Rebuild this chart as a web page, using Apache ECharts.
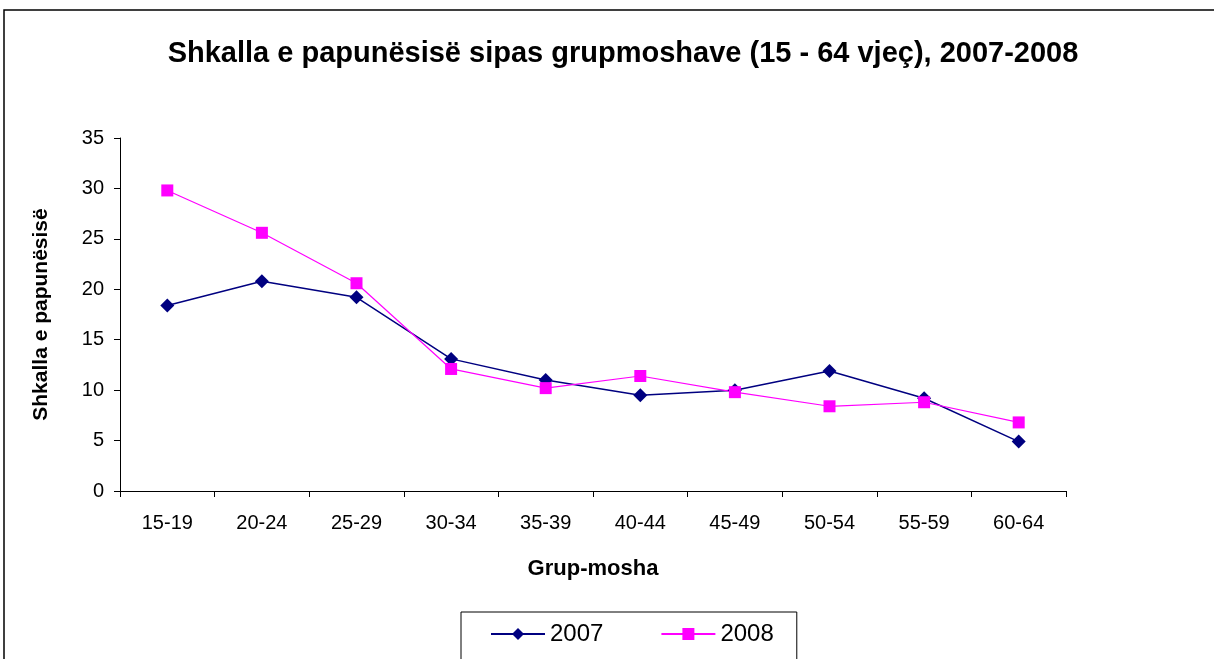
<!DOCTYPE html>
<html>
<head>
<meta charset="utf-8">
<script src="https://cdn.jsdelivr.net/npm/echarts@6/dist/echarts.min.js"></script>
<style>
html,body{margin:0;padding:0;background:#fff;}
#main{width:1214px;height:659px;}
</style>
</head>
<body>
<div id="main"></div>
<script>
var categories = ['15-19','20-24','25-29','30-34','35-39','40-44','45-49','50-54','55-59','60-64'];
var data2007 = [18.4, 20.8, 19.2, 13.1, 11.0, 9.5, 10.0, 11.9, 9.2, 4.9];
var data2008 = [29.8, 25.6, 20.6, 12.1, 10.2, 11.4, 9.8, 8.4, 8.8, 6.8];

var font = 'Liberation Sans, Arial, sans-serif';
var myChart = echarts.init(document.getElementById('main'));
var option = {
    backgroundColor: '#fff',
    animation: false,
    textStyle: { fontFamily: font },
    graphic: [{
        type: 'rect',
        shape: { x: 4, y: 10, width: 1240, height: 700 },
        style: { fill: 'none', stroke: '#000', lineWidth: 1.5 }
    }],
    title: {
        text: 'Shkalla e papunësisë sipas grupmoshave (15 - 64 vjeç), 2007-2008',
        left: 618,
        textAlign: 'center',
        top: 34,
        textStyle: { fontFamily: font, fontSize: 29, fontWeight: 'bold', color: '#000' }
    },
    legend: {
        data: ['2007', '2008'],
        left: 461,
        top: 612,
        padding: [10, 23, 20, 29],
        itemGap: 57,
        itemWidth: 54,
        itemHeight: 15,
        borderColor: '#000',
        borderWidth: 1,
        textStyle: { fontFamily: font, fontSize: 24, color: '#000' }
    },
    grid: { left: 120, right: 148, top: 138, bottom: 168, containLabel: false },
    xAxis: {
        type: 'category',
        data: categories,
        boundaryGap: true,
        name: 'Grup-mosha',
        nameLocation: 'middle',
        nameGap: 67,
        nameTextStyle: { fontFamily: font, fontSize: 22, fontWeight: 'bold', color: '#000' },
        axisLine: { lineStyle: { color: '#000', width: 1 } },
        axisTick: { show: true, inside: false, length: 6, alignWithLabel: false, lineStyle: { color: '#000' } },
        axisLabel: { fontFamily: font, fontSize: 20, color: '#000', margin: 22 },
        splitLine: { show: false }
    },
    yAxis: {
        type: 'value',
        min: 0,
        max: 35,
        interval: 5,
        name: 'Shkalla e papunësisë',
        nameLocation: 'middle',
        nameGap: 68,
        nameTextStyle: { fontFamily: font, fontSize: 21, fontWeight: 'bold', color: '#000' },
        axisLine: { show: true, lineStyle: { color: '#000', width: 1 } },
        axisTick: { show: true, inside: false, length: 6, lineStyle: { color: '#000' } },
        axisLabel: { fontFamily: font, fontSize: 20, color: '#000', margin: 16 },
        splitLine: { show: false }
    },
    series: [
        {
            name: '2007',
            type: 'line',
            data: data2007,
            symbol: 'diamond',
            symbolSize: 14,
            itemStyle: { color: '#000080' },
            lineStyle: { color: '#000080', width: 1.5 }
        },
        {
            name: '2008',
            type: 'line',
            data: data2008,
            symbol: 'rect',
            symbolSize: 12,
            itemStyle: { color: '#ff00ff' },
            lineStyle: { color: '#ff00ff', width: 1.2 }
        }
    ]
};
myChart.setOption(option);
</script>
</body>
</html>
